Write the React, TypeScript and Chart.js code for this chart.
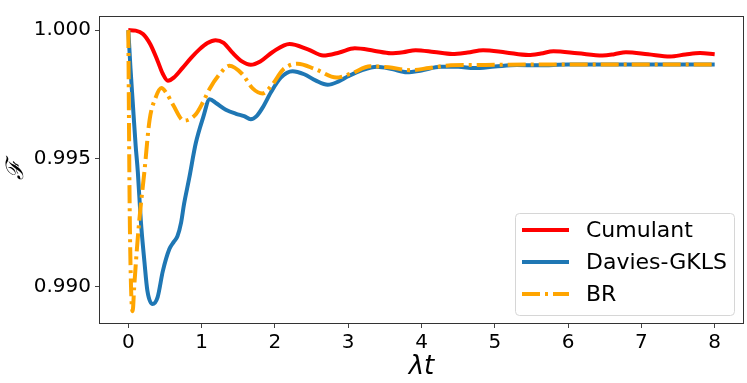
import { useEffect, useRef } from "react";
import { Chart, registerables } from "chart.js";

Chart.register(...registerables);

const seriesLabels = ["Cumulant", "Davies-GKLS", "BR"];

const tCumulant = [0, 0.1, 0.2, 0.3, 0.4, 0.47, 0.54, 0.62, 0.74, 0.86, 0.97, 1.08, 1.19, 1.3, 1.42, 1.55, 1.67, 1.8, 1.97, 2.2, 2.45, 2.66, 2.88, 3.09, 3.35, 3.58, 3.75, 3.92, 4.17, 4.42, 4.63, 4.84, 5.15, 5.46, 5.63, 5.8, 6.13, 6.47, 6.63, 6.79, 7.09, 7.39, 7.6, 7.8, 8.0];
const fCumulant = [1.0, 0.99998, 0.99985, 0.99945, 0.9988, 0.9983, 0.99803, 0.99815, 0.99853, 0.99893, 0.99925, 0.9995, 0.99961, 0.9995, 0.99912, 0.99878, 0.99865, 0.99878, 0.99915, 0.99946, 0.99925, 0.99901, 0.99913, 0.99929, 0.9992, 0.9991, 0.99914, 0.99922, 0.99915, 0.99907, 0.99913, 0.99922, 0.99913, 0.99903, 0.99909, 0.99918, 0.9991, 0.99901, 0.99906, 0.99914, 0.99906, 0.99897, 0.99905, 0.99911, 0.99906];

const tDavies = [0, 0.03, 0.06, 0.1, 0.13, 0.17, 0.22, 0.26, 0.33, 0.4, 0.47, 0.56, 0.62, 0.67, 0.72, 0.76, 0.83, 0.92, 1.02, 1.11, 1.2, 1.33, 1.47, 1.58, 1.67, 1.75, 1.83, 1.95, 2.08, 2.24, 2.4, 2.56, 2.72, 2.87, 3.0, 3.2, 3.39, 3.6, 3.8, 4.0, 4.26, 4.5, 4.72, 5.0, 5.3, 5.6, 6.0, 6.5, 7.0, 7.5, 8.0];
const fDavies = [1.0, 0.9985, 0.9972, 0.9955, 0.99447, 0.9926, 0.99097, 0.98985, 0.98933, 0.9896, 0.9906, 0.99147, 0.99175, 0.99197, 0.9925, 0.99322, 0.99422, 0.99559, 0.99659, 0.99731, 0.99715, 0.9969, 0.99674, 0.99665, 0.99653, 0.99665, 0.99697, 0.9976, 0.99815, 0.9984, 0.99828, 0.99803, 0.99787, 0.998, 0.9982, 0.99845, 0.99857, 0.99848, 0.99836, 0.99843, 0.99857, 0.99857, 0.99852, 0.99858, 0.99864, 0.99863, 0.99866, 0.99866, 0.99866, 0.99866, 0.99866];

const tBR = [0, 0.008, 0.018, 0.037, 0.059, 0.08, 0.11, 0.15, 0.22, 0.29, 0.37, 0.45, 0.53, 0.61, 0.76, 0.92, 1.02, 1.11, 1.25, 1.38, 1.55, 1.7, 1.83, 1.97, 2.11, 2.31, 2.55, 2.84, 3.05, 3.3, 3.55, 3.85, 4.1, 4.4, 4.7, 5.0, 5.5, 6.0, 7.0, 8.0];
const fBR = [1.0, 0.9968, 0.9932, 0.99, 0.98905, 0.98998, 0.9912, 0.9926, 0.9945, 0.9965, 0.99735, 0.99774, 0.9975, 0.99709, 0.99647, 0.99672, 0.9972, 0.99772, 0.9983, 0.99861, 0.9983, 0.99772, 0.99753, 0.9979, 0.99846, 0.99869, 0.99848, 0.99815, 0.99832, 0.99859, 0.99855, 0.99844, 0.99852, 0.99863, 0.99864, 0.99865, 0.99866, 0.99866, 0.99866, 0.99866];

const xTicks = [0, 1, 2, 3, 4, 5, 6, 7, 8];
const yTicks = [0.99, 0.995, 1.0];

const FONT = "'DejaVu Sans', sans-serif";

export default function App() {
  const ref = useRef<HTMLCanvasElement>(null);

  useEffect(() => {
    if (!ref.current) return;
    const pts = (t: number[], f: number[]) => t.map((x, i) => ({ x, y: f[i] }));

    const framePlugin = {
      id: "frame",
      afterDatasetsDraw(chart: any) {
        const { ctx, chartArea: a } = chart;
        ctx.save();
        ctx.strokeStyle = "#333";
        ctx.lineWidth = 1;
        ctx.strokeRect(a.left + 0.5, a.top + 0.5, a.right - a.left - 1, a.bottom - a.top - 1);
        ctx.restore();
      },
    };

    const legendPlugin = {
      id: "customLegend",
      afterDraw(chart: any) {
        const { ctx, chartArea: a } = chart;
        const w = 219;
        const h = 102;
        const x0 = a.right - 10 - w;
        const y0 = a.bottom - 9 - h;
        ctx.save();
        ctx.beginPath();
        if ((ctx as any).roundRect) (ctx as any).roundRect(x0 + 0.5, y0 + 0.5, w, h, 4);
        else ctx.rect(x0 + 0.5, y0 + 0.5, w, h);
        ctx.fillStyle = "rgba(255,255,255,0.8)";
        ctx.fill();
        ctx.strokeStyle = "#d6d6d6";
        ctx.lineWidth = 1;
        ctx.stroke();
        ctx.font = `22px ${FONT}`;
        ctx.textBaseline = "middle";
        ctx.textAlign = "left";
        chart.data.datasets.forEach((ds: any, i: number) => {
          const yy = y0 + 17 + i * 32;
          ctx.beginPath();
          ctx.setLineDash(ds.borderDash || []);
          ctx.lineCap = "butt";
          ctx.strokeStyle = ds.borderColor;
          ctx.lineWidth = ds.borderWidth;
          ctx.moveTo(x0 + 7, yy);
          ctx.lineTo(x0 + 54, yy);
          ctx.stroke();
          ctx.setLineDash([]);
          ctx.fillStyle = "#000";
          ctx.fillText(ds.label, x0 + 71, yy + 1);
        });
        ctx.restore();
      },
    };

    const common = {
      pointRadius: 0,
      fill: false,
      cubicInterpolationMode: "monotone" as const,
      borderCapStyle: "butt" as const,
      borderJoinStyle: "round" as const,
      borderWidth: 4,
    };

    const chart = new Chart(ref.current, {
      type: "line",
      data: {
        datasets: [
          { ...common, label: seriesLabels[0], data: pts(tCumulant, fCumulant), borderColor: "#ff0000", order: 3 },
          { ...common, label: seriesLabels[1], data: pts(tDavies, fDavies), borderColor: "#1f77b4", order: 2 },
          { ...common, label: seriesLabels[2], data: pts(tBR, fBR), borderColor: "#ffa500", borderDash: [18, 5, 3, 5], order: 1 },
        ],
      },
      options: {
        animation: false,
        responsive: false,
        layout: { padding: { left: 0, right: 3, top: 5, bottom: 0 } },
        plugins: { legend: { display: false }, tooltip: { enabled: false } },
        scales: {
          x: {
            type: "linear",
            min: -0.4,
            max: 8.4,
            afterBuildTicks: (s: any) => { s.ticks = xTicks.map((v) => ({ value: v })); },
            afterFit: (s: any) => { s.height = 59; },
            grid: { drawOnChartArea: false, drawTicks: true, tickLength: 4, color: "#444" },
            border: { display: false },
            ticks: { color: "#000", font: { family: FONT, size: 20 }, padding: 3, maxRotation: 0, callback: (v: any) => String(v) },
            title: { display: true, text: "λt", color: "#000", font: { family: FONT, size: 26, style: "italic" }, padding: { top: -4, bottom: 0 } },
          },
          y: {
            type: "linear",
            min: 0.98855,
            max: 1.00055,
            afterBuildTicks: (s: any) => { s.ticks = yTicks.map((v) => ({ value: v })); },
            afterFit: (s: any) => { s.width = 99; },
            grid: { drawOnChartArea: false, drawTicks: true, tickLength: 4, color: "#444" },
            border: { display: false },
            ticks: { color: "#000", font: { family: FONT, size: 20 }, padding: 4, callback: (v: any) => Number(v).toFixed(3) },
            title: { display: true, text: "ℱ", color: "#000", font: { family: "'DejaVu Serif', serif", size: 24, style: "italic" }, padding: { top: 2, bottom: 0 } },
          },
        },
      },
      plugins: [framePlugin, legendPlugin],
    });
    return () => chart.destroy();
  }, []);

  return (
    <div style={{ position: "fixed", left: 0, top: 0, width: 747, height: 383, background: "#fff" }}>
      <canvas ref={ref} width={747} height={383} style={{ display: "block" }} />
    </div>
  );
}
